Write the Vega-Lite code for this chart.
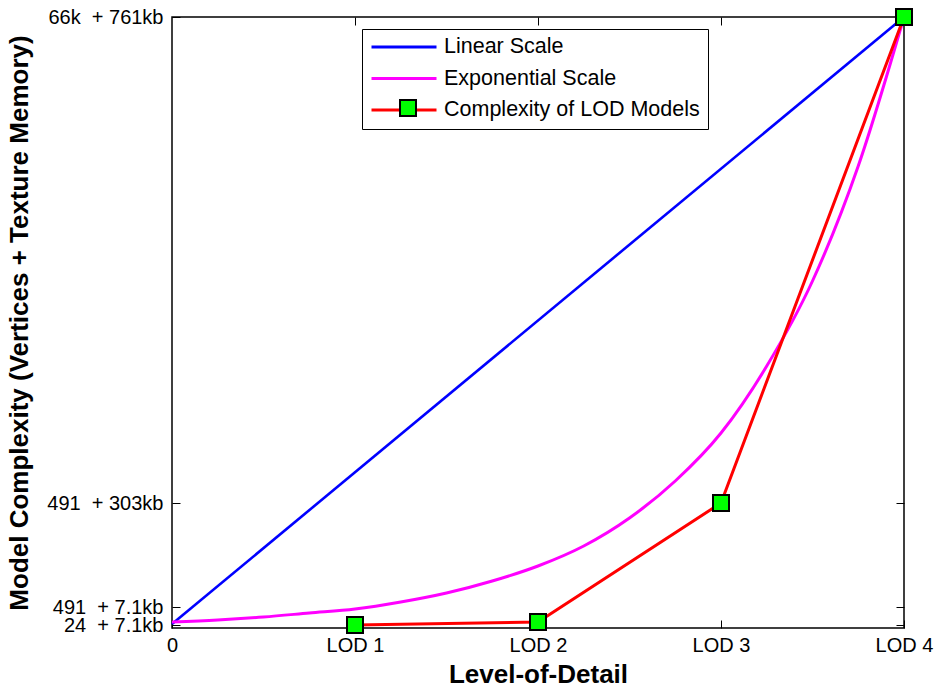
{
  "$schema": "https://vega.github.io/schema/vega-lite/v6.json",
  "width": 732,
  "height": 611,
  "autosize": {"type": "none"},
  "padding": {"left": 172, "top": 17, "right": 34, "bottom": 62},
  "background": "white",
  "config": {
    "view": {"stroke": "black", "strokeWidth": 1.5},
    "font": "Liberation Sans"
  },
  "datasets": {
    "linear": [
      {"level": 0, "value": 4, "series": "Linear Scale"},
      {"level": 4, "value": 611, "series": "Linear Scale"}
    ],
    "exponential": [
      {"level": 0, "value": 6, "series": "Exponential Scale"},
      {"level": 0.25, "value": 8, "series": "Exponential Scale"},
      {"level": 0.5, "value": 11, "series": "Exponential Scale"},
      {"level": 0.75, "value": 15, "series": "Exponential Scale"},
      {"level": 1, "value": 19, "series": "Exponential Scale"},
      {"level": 1.25, "value": 26, "series": "Exponential Scale"},
      {"level": 1.5, "value": 35, "series": "Exponential Scale"},
      {"level": 1.75, "value": 47, "series": "Exponential Scale"},
      {"level": 2, "value": 62, "series": "Exponential Scale"},
      {"level": 2.25, "value": 82, "series": "Exponential Scale"},
      {"level": 2.5, "value": 110, "series": "Exponential Scale"},
      {"level": 2.75, "value": 147, "series": "Exponential Scale"},
      {"level": 3, "value": 195, "series": "Exponential Scale"},
      {"level": 3.25, "value": 262, "series": "Exponential Scale"},
      {"level": 3.5, "value": 347, "series": "Exponential Scale"},
      {"level": 3.75, "value": 462, "series": "Exponential Scale"},
      {"level": 4, "value": 611, "series": "Exponential Scale"}
    ],
    "lod": [
      {"level": 1, "value": 3, "series": "Complexity of LOD Models"},
      {"level": 2, "value": 6, "series": "Complexity of LOD Models"},
      {"level": 3, "value": 125, "series": "Complexity of LOD Models"},
      {"level": 4, "value": 611, "series": "Complexity of LOD Models"}
    ]
  },
  "layer": [
    {
      "data": {"name": "linear"},
      "mark": {"type": "line", "strokeWidth": 2.6},
      "encoding": {
        "x": {
          "field": "level", "type": "quantitative",
          "scale": {"domain": [0, 4], "nice": false, "zero": false},
          "axis": {
            "orient": "bottom",
            "values": [0, 1, 2, 3, 4],
            "labelExpr": "datum.value == 0 ? '0' : 'LOD ' + datum.value",
            "title": "Level-of-Detail",
            "titleFont": "Liberation Sans", "titleFontSize": 26, "titleFontWeight": "bold", "titleColor": "black",
            "titlePadding": 6,
            "labelFont": "Liberation Sans", "labelFontSize": 20, "labelColor": "black",
            "labelPadding": 15,
            "labelFlush": false, "labelOverlap": false, "labelBound": false,
            "tickSize": -8, "tickColor": "black", "tickWidth": 1,
            "domain": false, "grid": false
          }
        },
        "y": {
          "field": "value", "type": "quantitative",
          "scale": {"domain": [0, 611], "nice": false, "zero": false},
          "axis": {
            "orient": "left",
            "values": [3, 21, 125, 611],
            "labelExpr": "datum.value == 3 ? '24\u00a0\u00a0+ 7.1kb' : datum.value == 21 ? '491\u00a0\u00a0+ 7.1kb' : datum.value == 125 ? '491\u00a0\u00a0+ 303kb' : '66k\u00a0\u00a0+ 761kb'",
            "title": "Model Complexity (Vertices + Texture Memory)",
            "titleFont": "Liberation Sans", "titleFontSize": 26, "titleFontWeight": "bold", "titleColor": "black",
            "titlePadding": 14,
            "labelFont": "Liberation Sans", "labelFontSize": 20, "labelColor": "black",
            "labelPadding": 17,
            "labelOverlap": false, "labelBound": false, "labelFlush": false,
            "tickSize": -8, "tickColor": "black", "tickWidth": 1,
            "domain": false, "grid": false
          }
        },
        "stroke": {
          "field": "series", "type": "nominal",
          "scale": {
            "domain": ["Linear Scale", "Exponential Scale", "Complexity of LOD Models"],
            "range": ["#0000ff", "#ff00ff", "#ff0000"]
          },
          "legend": {
            "title": null,
            "orient": "none",
            "legendX": 190,
            "legendY": 12,
            "symbolType": "stroke",
            "symbolSize": 4225,
            "symbolStrokeWidth": 2.8,
            "clipHeight": 20,
            "rowPadding": 9.5,
            "padding": 8,
            "labelOffset": 6,
            "labelFont": "Liberation Sans",
            "labelFontSize": 21.5,
            "labelColor": "black",
            "labelLimit": 400,
            "strokeColor": "black",
            "fillColor": "white"
          }
        }
      }
    },
    {
      "data": {"name": "exponential"},
      "mark": {"type": "line", "strokeWidth": 3, "interpolate": "monotone"},
      "encoding": {
        "x": {"field": "level", "type": "quantitative", "axis": null},
        "y": {"field": "value", "type": "quantitative", "axis": null},
        "stroke": {"field": "series", "type": "nominal"}
      }
    },
    {
      "data": {"name": "lod"},
      "mark": {"type": "line", "strokeWidth": 3},
      "encoding": {
        "x": {"field": "level", "type": "quantitative", "axis": null},
        "y": {"field": "value", "type": "quantitative", "axis": null},
        "stroke": {"field": "series", "type": "nominal"}
      }
    },
    {
      "data": {"name": "lod"},
      "mark": {"type": "point", "shape": "square", "size": 256, "filled": true, "stroke": "black", "strokeWidth": 2, "opacity": 1},
      "encoding": {
        "x": {
          "field": "level", "type": "quantitative",
          "axis": {
            "orient": "top", "values": [1, 2, 3], "labels": false, "title": null,
            "tickSize": -8, "tickColor": "black", "domain": false, "grid": false
          }
        },
        "y": {
          "field": "value", "type": "quantitative",
          "axis": {
            "orient": "right", "values": [3, 21, 125], "labels": false, "title": null,
            "tickSize": -8, "tickColor": "black", "domain": false, "grid": false
          }
        },
        "fill": {
          "field": "series", "type": "nominal",
          "scale": {"domain": ["Complexity of LOD Models"], "range": ["#00ff00"]},
          "legend": {
            "title": null,
            "orient": "none",
            "legendX": 227,
            "legendY": 82,
            "symbolType": "square",
            "symbolSize": 256,
            "symbolStrokeColor": "black",
            "symbolStrokeWidth": 2,
            "symbolFillColor": "#00ff00",
            "symbolOpacity": 1,
            "labelExpr": "''",
            "padding": 0
          }
        }
      }
    }
  ],
  "resolve": {"axis": {"x": "independent", "y": "independent"}}
}
